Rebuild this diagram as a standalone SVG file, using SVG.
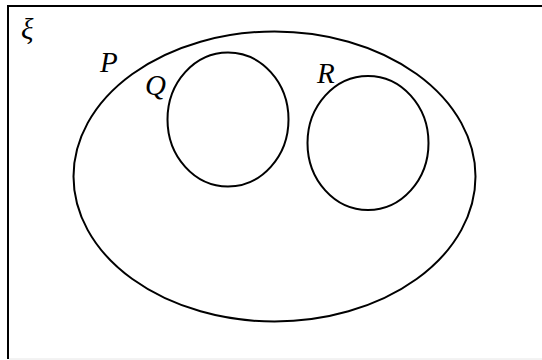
<svg xmlns="http://www.w3.org/2000/svg" width="542" height="360" viewBox="0 0 542 360">
<style>
.s{fill:none;stroke:#000;stroke-width:2}
.t{font-family:"Liberation Serif","Times New Roman",serif;font-style:italic;font-size:29px;fill:#000}
</style>
<rect width="542" height="360" fill="#fff"/>
<g id="universe">
<line x1="8" y1="6" x2="542" y2="6" stroke="#000" stroke-width="2"/>
<line x1="8" y1="5" x2="8" y2="359" stroke="#000" stroke-width="2"/>
<line x1="9" y1="359" x2="542" y2="359" stroke="#e6e6e6" stroke-width="1"/>
<text class="t" x="21" y="39">ξ</text>
</g>
<g id="P">
<ellipse class="s" cx="274.5" cy="176.5" rx="201" ry="145"/>
<text class="t" x="100" y="72">P</text>
</g>
<g id="Q">
<ellipse class="s" cx="228" cy="119.5" rx="60.5" ry="67"/>
<text class="t" x="145" y="95">Q</text>
</g>
<g id="R">
<ellipse class="s" cx="368" cy="143" rx="60.5" ry="67"/>
<text class="t" x="317" y="83">R</text>
</g>
<g id="connectors"/>
</svg>
